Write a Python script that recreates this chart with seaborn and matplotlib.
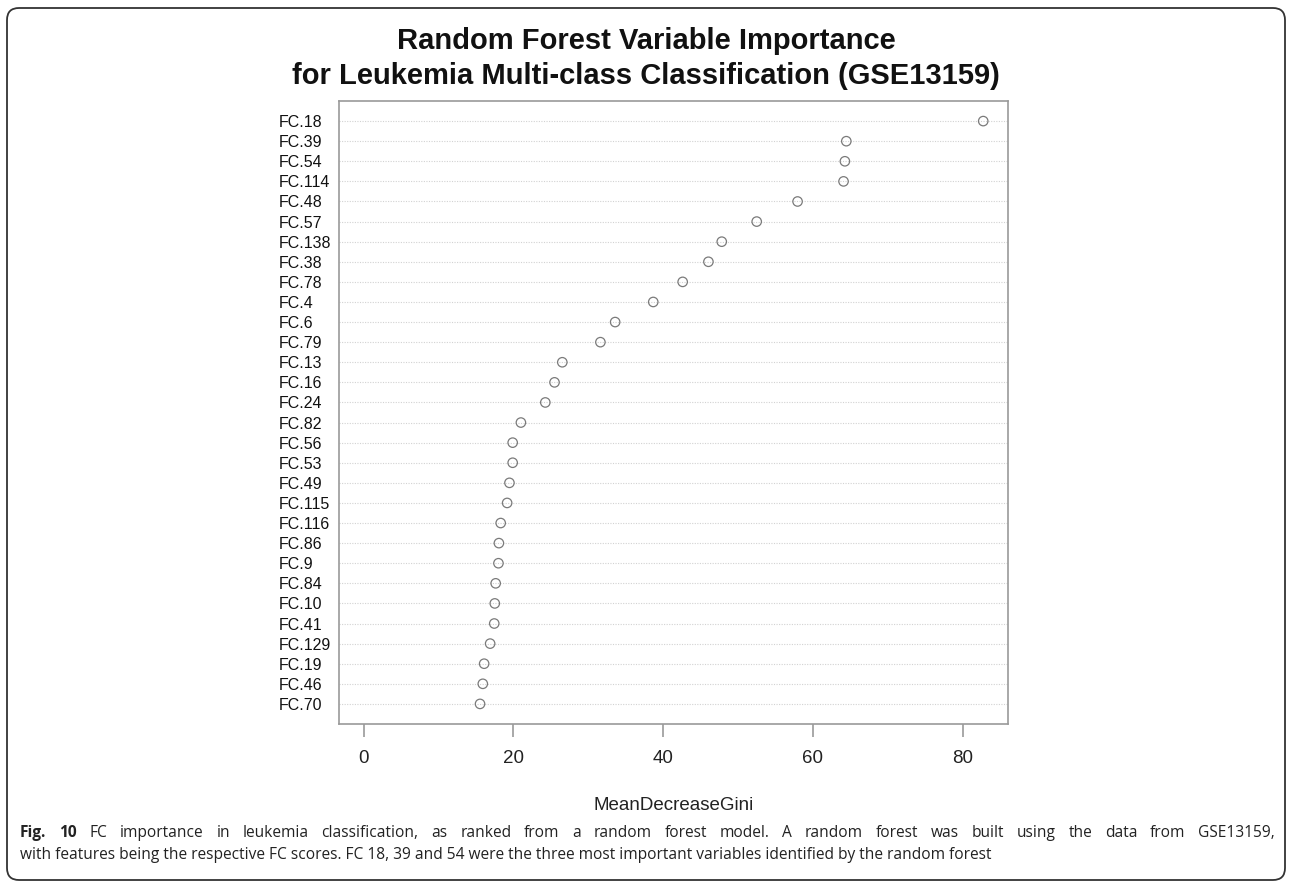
import matplotlib
matplotlib.use("Agg")
import matplotlib.pyplot as plt
from matplotlib.patches import FancyBboxPatch
from matplotlib.transforms import IdentityTransform
import seaborn as sns
import pandas as pd

# Variable importance (mean decrease in Gini), ranked from most to least important
features = ["FC.18", "FC.39", "FC.54", "FC.114", "FC.48", "FC.57", "FC.138", "FC.38",
            "FC.78", "FC.4", "FC.6", "FC.79", "FC.13", "FC.16", "FC.24", "FC.82",
            "FC.56", "FC.53", "FC.49", "FC.115", "FC.116", "FC.86", "FC.9", "FC.84",
            "FC.10", "FC.41", "FC.129", "FC.19", "FC.46", "FC.70"]
gini = [82.75, 64.46, 64.27, 64.09, 57.95, 52.49, 47.82, 46.04,
        42.60, 38.67, 33.58, 31.61, 26.52, 25.48, 24.25, 20.99,
        19.89, 19.89, 19.46, 19.15, 18.29, 18.05, 17.99, 17.62,
        17.50, 17.43, 16.88, 16.08, 15.90, 15.53]
x_ticks = [0, 20, 40, 60, 80]

title_lines = ["Random Forest Variable Importance",
               "for Leukemia Multi-class Classification (GSE13159)"]
x_label = "MeanDecreaseGini"
caption_bold = "Fig. 10"
caption_line1 = ("FC importance in leukemia classification, as ranked from a random forest model. "
                 "A random forest was built using the data from GSE13159,")
caption_line2 = ("with features being the respective FC scores. FC 18, 39 and 54 were the three "
                 "most important variables identified by the random forest")

df = pd.DataFrame({"feature": features, "gini": gini})

sns.set_theme(style="white")
plt.rcParams["font.family"] = ["Liberation Sans", "DejaVu Sans"]

W, H = 1292, 881
fig = plt.figure(figsize=(W / 100, H / 100), dpi=100)
fig.patch.set_facecolor("white")

# plot box in pixel terms
left, right, top, bottom = 339, 1008, 101, 724
ax = fig.add_axes([left / W, (H - bottom) / H, (right - left) / W, (bottom - top) / H])

# dotted guide line for every feature
for i in range(len(features)):
    ax.axhline(i, color="#d2d2d2", lw=0.8, ls=(0, (1, 1.3)), zorder=1)

sns.stripplot(data=df, x="gini", y="feature", order=features, orient="h", jitter=False,
              size=6.8, linewidth=0.9, edgecolor="#7a7a7a", color="white", ax=ax, zorder=3)
for coll in ax.collections:
    coll.set_facecolor("none")
    coll.set_edgecolor("#7a7a7a")

ax.set_xlim(-3.31, 86.06)
ax.set_ylim(len(features), -1)
ax.set_xticks(x_ticks)
ax.set_xticklabels([str(t) for t in x_ticks])
ax.set_ylabel("")
ax.set_xlabel(x_label, fontsize=13.5, color="#222222")
ax.xaxis.set_label_coords(0.5, (bottom - 805) / (bottom - top))
ax.xaxis.label.set_va("center")

for s in ax.spines.values():
    s.set_visible(True)
    s.set_color("#9a9a9a")
    s.set_linewidth(1.2)

ax.tick_params(axis="x", bottom=True, length=9, width=1.2, color="#9a9a9a",
               labelsize=13.5, labelcolor="#222222", pad=10)
ax.tick_params(axis="y", left=False, length=0, pad=(left - 279) * 0.72,
               labelsize=11.5, labelcolor="#111111")
for lbl in ax.get_yticklabels():
    lbl.set_ha("left")
ax.grid(False)

# two-line bold title
fig.text(0.5, 1 - 41 / H, title_lines[0], ha="center", va="center",
         fontsize=21, fontweight="bold", color="#111111")
fig.text(0.5, 1 - 76 / H, title_lines[1], ha="center", va="center",
         fontsize=21, fontweight="bold", color="#111111")

# figure caption: first line justified across the panel (word spacing), last line ragged
cap_font = ["Open Sans", "DejaVu Sans"]
cap_size = 11.2
cap_color = "#222222"
cap_left, cap_right = 20, 1275
renderer = fig.canvas.get_renderer()

words = [(w, "bold") for w in caption_bold.split()] + [(w, "normal") for w in caption_line1.split()]
y1 = 1 - 837 / H
word_texts = [fig.text(0, y1, w, ha="left", va="baseline", fontsize=cap_size, fontweight=wt,
                       family=cap_font, color=cap_color) for w, wt in words]
widths = [t.get_window_extent(renderer).width for t in word_texts]
gap = (cap_right - cap_left - sum(widths)) / (len(word_texts) - 1)
xpos = cap_left
for t, wd in zip(word_texts, widths):
    t.set_x(xpos / W)
    xpos += wd + gap

fig.text(cap_left / W, 1 - 859 / H, caption_line2, ha="left", va="baseline",
         fontsize=cap_size, family=cap_font, color=cap_color)

# rounded frame around the whole figure panel
frame = FancyBboxPatch((7, 1), W - 14, H - 9, boxstyle="round,pad=0,rounding_size=12",
                       transform=IdentityTransform(), fill=False, ec="#333333", lw=1.3)
fig.patches.append(frame)

fig.savefig("out.png", dpi=100)
